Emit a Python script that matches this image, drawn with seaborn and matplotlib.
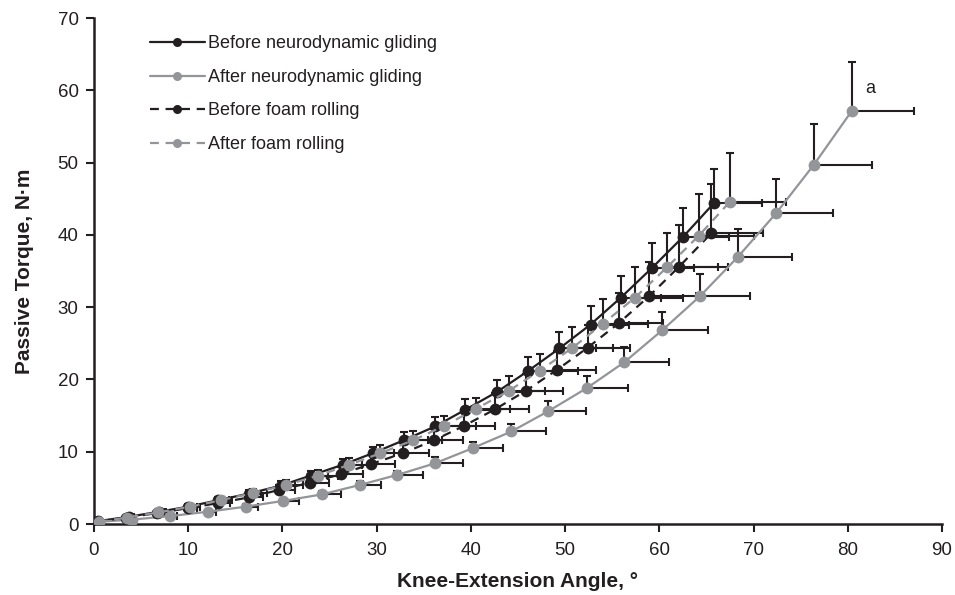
import numpy as np
import matplotlib
matplotlib.use("Agg")
import matplotlib.pyplot as plt
from matplotlib.lines import Line2D
import seaborn as sns

# angle (deg), torque (N·m) and SDs
before_nd_angle = [0.4, 3.7, 6.9, 10.0, 13.2, 16.4, 19.8, 23.0, 26.4, 29.6, 32.9,
                   36.2, 39.4, 42.8, 46.1, 49.4, 52.7, 55.9, 59.2, 62.5, 65.8]
before_nd_torque = [0.4, 1.0, 1.7, 2.4, 3.3, 4.2, 5.3, 6.7, 8.2, 9.8, 11.6,
                    13.5, 15.8, 18.3, 21.2, 24.3, 27.6, 31.3, 35.4, 39.7, 44.4]
before_nd_xsd = [0.3, 0.5, 0.7, 0.9, 1.1, 1.3, 1.5, 1.8, 2.0, 2.2, 2.5,
                 2.7, 3.0, 3.3, 3.5, 3.9, 4.1, 4.3, 4.5, 4.9, 5.1]
before_nd_ysd = [0.1, 0.2, 0.3, 0.3, 0.4, 0.5, 0.6, 0.7, 0.75, 0.8, 1.1,
                 1.3, 1.5, 1.6, 1.9, 2.2, 2.6, 3.0, 3.5, 4.0, 4.7]

after_nd_angle = [0.4, 4.0, 8.1, 12.1, 16.1, 20.1, 24.2, 28.2, 32.2, 36.2, 40.2,
                  44.3, 48.2, 52.3, 56.3, 60.3, 64.3, 68.3, 72.4, 76.4, 80.4]
after_nd_torque = [0.3, 0.6, 1.1, 1.7, 2.4, 3.2, 4.1, 5.4, 6.8, 8.4, 10.5,
                   12.8, 15.6, 18.8, 22.4, 26.8, 31.5, 36.9, 43.0, 49.7, 57.1]
after_nd_xsd = [0.2, 0.4, 0.7, 0.9, 1.3, 1.7, 2.0, 2.3, 2.7, 3.0, 3.2,
                3.7, 4.0, 4.4, 4.7, 4.9, 5.3, 5.8, 6.0, 6.2, 6.6]
after_nd_ysd = [0.1, 0.1, 0.2, 0.2, 0.3, 0.3, 0.4, 0.5, 0.6, 0.9, 0.9,
                1.1, 1.4, 1.7, 2.1, 2.6, 3.1, 3.9, 4.7, 5.6, 6.8]

before_fr_angle = [0.3, 3.4, 6.7, 10.0, 13.2, 16.5, 19.6, 22.9, 26.2, 29.4, 32.8,
                   36.1, 39.3, 42.6, 45.8, 49.1, 52.4, 55.7, 58.9, 62.1, 65.5]
before_fr_torque = [0.3, 0.9, 1.5, 2.2, 2.9, 3.7, 4.7, 5.7, 6.9, 8.3, 9.8,
                    11.6, 13.6, 15.9, 18.4, 21.3, 24.4, 27.8, 31.5, 35.6, 40.2]
before_fr_xsd = [0.3, 0.5, 0.7, 0.9, 1.2, 1.4, 1.7, 2.0, 2.3, 2.5, 2.8,
                 3.1, 3.3, 3.6, 4.0, 4.2, 4.5, 4.7, 5.0, 5.2, 5.5]
before_fr_ysd = [0.1, 0.2, 0.3, 0.4, 0.5, 0.6, 0.7, 0.8, 1.0, 1.2, 1.4,
                 1.6, 1.9, 2.2, 2.4, 2.6, 3.1, 4.1, 4.8, 5.8, 6.9]

after_fr_angle = [0.5, 3.5, 6.8, 10.2, 13.5, 16.9, 20.4, 23.8, 27.1, 30.4, 33.9,
                  37.2, 40.5, 44.0, 47.3, 50.7, 54.0, 57.4, 60.8, 64.2, 67.5]
after_fr_torque = [0.3, 0.9, 1.6, 2.4, 3.3, 4.3, 5.4, 6.7, 8.2, 9.8, 11.6,
                   13.6, 15.9, 18.4, 21.2, 24.3, 27.7, 31.3, 35.5, 39.9, 44.6]
after_fr_xsd = [0.3, 0.5, 0.7, 1.0, 1.2, 1.5, 1.8, 2.1, 2.4, 2.7, 3.0,
                3.3, 3.7, 3.9, 4.1, 4.4, 4.8, 5.1, 5.4, 5.8, 5.9]
after_fr_ysd = [0.1, 0.2, 0.3, 0.4, 0.5, 0.6, 0.7, 0.8, 1.0, 1.1, 1.2,
                1.4, 1.6, 2.1, 2.3, 2.9, 3.4, 4.2, 4.8, 5.7, 6.7]

labels = ["Before neurodynamic gliding", "After neurodynamic gliding",
          "Before foam rolling", "After foam rolling"]

DARK = "#231f20"
GREY = "#939598"

sns.set_style("ticks")
plt.rcParams["font.family"] = ["Liberation Sans", "DejaVu Sans"]

fig = plt.figure(figsize=(9.55, 5.95), dpi=100)
ax = fig.add_axes([0.0984, 0.1193, 0.888, 0.8504])

series = [
    (before_nd_angle, before_nd_torque, before_nd_xsd, before_nd_ysd, DARK, "-"),
    (after_nd_angle, after_nd_torque, after_nd_xsd, after_nd_ysd, GREY, "-"),
    (before_fr_angle, before_fr_torque, before_fr_xsd, before_fr_ysd, DARK, (0, (4, 3))),
    (after_fr_angle, after_fr_torque, after_fr_xsd, after_fr_ysd, GREY, (0, (4, 3))),
]

# error bars first (one-sided: up and right)
for ang, tq, xsd, ysd, col, ls in series:
    zeros = np.zeros(len(ang))
    ax.errorbar(ang, tq, xerr=[zeros, xsd], yerr=[zeros, ysd], fmt="none",
                ecolor=DARK, elinewidth=1.5, capsize=3, capthick=1.5, zorder=1)

order = [0, 2, 1, 3]
for i in order:
    ang, tq, xsd, ysd, col, ls = series[i]
    sns.lineplot(x=ang, y=tq, ax=ax, color=col, linewidth=1.6, linestyle=ls,
                 marker="o", markersize=8.5, markeredgewidth=0, sort=False,
                 zorder=2 + i)

ax.text(81.9, 60.3, "a", fontsize=13, color=DARK, va="center")

ax.set_xlim(0, 90)
ax.set_ylim(0, 70)
ax.set_xticks(np.arange(0, 91, 10))
ax.set_yticks(np.arange(0, 71, 10))
ax.tick_params(labelsize=13.5, length=6, width=1.5, color=DARK, labelcolor=DARK)
ax.tick_params(axis="x", pad=7)
ax.tick_params(axis="y", pad=5)
for s in ["left", "bottom"]:
    ax.spines[s].set_linewidth(1.8)
    ax.spines[s].set_color(DARK)
sns.despine(ax=ax)

ax.set_xlabel("Knee-Extension Angle, °", fontsize=15, fontweight="bold",
              color=DARK, labelpad=9)
ax.set_ylabel("Passive Torque, N·m", fontsize=15, fontweight="bold",
              color=DARK, labelpad=17)

handles = [Line2D([], [], color=c, linestyle=ls, linewidth=1.6, marker="o",
                  markersize=6.5, markeredgewidth=0)
           for (_, _, _, _, c, ls) in series]
leg = ax.legend(handles, labels, loc="upper left", bbox_to_anchor=(0.066, 0.966),
                frameon=False, fontsize=13, handlelength=3.05, handletextpad=0.15,
                labelspacing=0.92, borderpad=0, borderaxespad=0)
for t in leg.get_texts():
    t.set_color(DARK)

fig.savefig("out.png", dpi=100)
